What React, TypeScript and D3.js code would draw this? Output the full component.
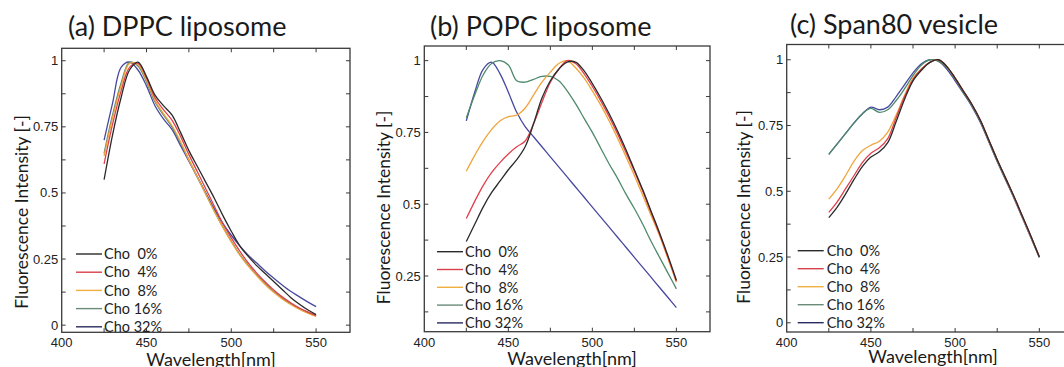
import React from 'react';
import * as d3 from 'd3';

// ---------- data ----------
const WAVELENGTH = [425, 430, 435, 440, 445, 450, 455, 460, 465, 470, 475, 480, 485, 490, 495, 500, 505, 510, 515, 520, 525, 530, 535, 540, 545, 550];

const LEGEND_LABELS = ['Cho  0%', 'Cho  4%', 'Cho  8%', 'Cho 16%', 'Cho 32%'];
const SERIES_COLORS = ['#2a2a2a', '#e0404c', '#f0a43c', '#4e8a6c', '#4848a0'];
const LEGEND_COLORS = ['#2a2a2a', '#d8404c', '#f0b040', '#6a8a7a', '#2a2a60'];

const X_TICKS = [400, 450, 500, 550];
const X_MINOR_TICKS = [425, 475, 525];

// (a) DPPC liposome
const dppcCho0 = [0.55, 0.72, 0.86, 0.965, 0.995, 0.94, 0.87, 0.83, 0.795, 0.73, 0.66, 0.60, 0.54, 0.48, 0.415, 0.355, 0.30, 0.26, 0.225, 0.195, 0.165, 0.135, 0.105, 0.08, 0.058, 0.04];
const dppcCho4 = [0.61, 0.76, 0.885, 0.975, 0.99, 0.935, 0.86, 0.815, 0.775, 0.715, 0.645, 0.58, 0.515, 0.45, 0.385, 0.33, 0.28, 0.235, 0.197, 0.163, 0.133, 0.107, 0.085, 0.066, 0.05, 0.036];
const dppcCho8 = [0.64, 0.785, 0.905, 0.99, 0.985, 0.925, 0.85, 0.80, 0.755, 0.695, 0.625, 0.56, 0.495, 0.43, 0.37, 0.315, 0.265, 0.223, 0.187, 0.153, 0.124, 0.099, 0.078, 0.06, 0.045, 0.033];
const dppcCho16 = [0.65, 0.795, 0.915, 0.995, 0.98, 0.92, 0.845, 0.795, 0.75, 0.69, 0.625, 0.56, 0.495, 0.432, 0.372, 0.318, 0.268, 0.226, 0.19, 0.157, 0.127, 0.102, 0.081, 0.063, 0.048, 0.036];
const dppcCho32 = [0.70, 0.84, 0.975, 0.995, 0.965, 0.905, 0.83, 0.78, 0.74, 0.68, 0.62, 0.56, 0.50, 0.44, 0.385, 0.34, 0.30, 0.265, 0.235, 0.205, 0.178, 0.152, 0.128, 0.108, 0.088, 0.07];

// (b) POPC liposome
const popcCho0 = [0.37, 0.43, 0.49, 0.54, 0.58, 0.62, 0.655, 0.70, 0.78, 0.87, 0.93, 0.97, 0.995, 0.995, 0.965, 0.92, 0.87, 0.815, 0.755, 0.69, 0.62, 0.55, 0.475, 0.40, 0.32, 0.235];
const popcCho4 = [0.45, 0.51, 0.565, 0.61, 0.645, 0.675, 0.70, 0.72, 0.78, 0.855, 0.925, 0.97, 1.0, 0.99, 0.955, 0.91, 0.86, 0.805, 0.745, 0.68, 0.615, 0.545, 0.47, 0.395, 0.315, 0.232];
const popcCho8 = [0.615, 0.67, 0.72, 0.76, 0.79, 0.805, 0.81, 0.835, 0.88, 0.925, 0.96, 0.99, 1.0, 0.975, 0.94, 0.895, 0.845, 0.79, 0.73, 0.665, 0.60, 0.53, 0.46, 0.39, 0.31, 0.228];
const popcCho16 = [0.80, 0.88, 0.95, 0.99, 1.0, 0.985, 0.93, 0.925, 0.935, 0.945, 0.945, 0.93, 0.895, 0.85, 0.80, 0.75, 0.695, 0.64, 0.59, 0.535, 0.485, 0.43, 0.37, 0.315, 0.26, 0.205];
const popcCho32 = [0.79, 0.89, 0.97, 0.995, 0.955, 0.89, 0.82, 0.77, 0.735, 0.70, 0.665, 0.63, 0.595, 0.56, 0.525, 0.49, 0.455, 0.42, 0.385, 0.35, 0.315, 0.28, 0.245, 0.21, 0.175, 0.14];

// (c) Span80 vesicle
const spanCho0 = [0.40, 0.44, 0.49, 0.545, 0.595, 0.63, 0.65, 0.685, 0.765, 0.85, 0.92, 0.96, 0.99, 1.0, 0.975, 0.93, 0.88, 0.83, 0.77, 0.695, 0.62, 0.55, 0.48, 0.405, 0.33, 0.25];
const spanCho4 = [0.42, 0.46, 0.51, 0.56, 0.61, 0.645, 0.665, 0.70, 0.78, 0.86, 0.925, 0.965, 0.99, 1.0, 0.975, 0.93, 0.88, 0.83, 0.77, 0.695, 0.62, 0.55, 0.478, 0.403, 0.328, 0.252];
const spanCho8 = [0.47, 0.51, 0.56, 0.615, 0.655, 0.675, 0.69, 0.725, 0.79, 0.865, 0.93, 0.965, 0.99, 1.0, 0.975, 0.93, 0.88, 0.83, 0.77, 0.695, 0.62, 0.55, 0.478, 0.403, 0.328, 0.252];
const spanCho16 = [0.64, 0.68, 0.72, 0.76, 0.795, 0.815, 0.80, 0.81, 0.845, 0.89, 0.94, 0.98, 1.0, 0.995, 0.97, 0.925, 0.875, 0.825, 0.765, 0.69, 0.615, 0.545, 0.475, 0.40, 0.325, 0.25];
const spanCho32 = [0.64, 0.68, 0.72, 0.76, 0.795, 0.82, 0.81, 0.82, 0.86, 0.905, 0.95, 0.985, 1.0, 0.995, 0.965, 0.92, 0.872, 0.822, 0.762, 0.688, 0.613, 0.543, 0.473, 0.398, 0.323, 0.248];

// ---------- layout ----------
const PANELS = [
  {
    title: '(a) DPPC liposome', series: [dppcCho0, dppcCho4, dppcCho8, dppcCho16, dppcCho32],
    left: 61.7, right: 350, top: 48.3, bottom: 332.3, yDomain: [-0.027, 1.047],
    yTicks: [0, 0.25, 0.5, 0.75, 1],
    titleX: 68, titleY: 36, yTitleX: 28, yTitleY: 212, xTitleX: 211, xTitleY: 366,
    legLine: 76, legText: 104, legY: 254, legDy: 18.2,
  },
  {
    title: '(b) POPC liposome', series: [popcCho0, popcCho4, popcCho8, popcCho16, popcCho32],
    left: 424.3, right: 710, top: 46, bottom: 331.7, yDomain: [0.056, 1.051],
    yTicks: [0.25, 0.5, 0.75, 1],
    titleX: 430, titleY: 36, yTitleX: 390, yTitleY: 207.5, xTitleX: 572, xTitleY: 365,
    legLine: 437, legText: 465, legY: 251.7, legDy: 17.8,
  },
  {
    title: '(c) Span80 vesicle', series: [spanCho0, spanCho4, spanCho8, spanCho16, spanCho32],
    left: 786.7, right: 1073, top: 44.5, bottom: 332, yDomain: [-0.035, 1.058],
    yTicks: [0, 0.25, 0.5, 0.75, 1],
    titleX: 790, titleY: 34, yTitleX: 750, yTitleY: 207, xTitleX: 933, xTitleY: 363,
    legLine: 797.7, legText: 826.7, legY: 250.7, legDy: 18,
  },
];

const LABEL_FONT = 'Lato, "Open Sans", sans-serif';
const TICK_FONT = '"Liberation Sans", Arial, sans-serif';
const FRAME = '#3a3a3a';
const TICK_LEN = 4;

function Panel({ p }: { p: (typeof PANELS)[number] }) {
  const x = d3.scaleLinear().domain([400, 570]).range([p.left, p.right]);
  const y = d3.scaleLinear().domain(p.yDomain).range([p.bottom, p.top]);
  const line = d3
    .line<number>()
    .x((_, i) => x(WAVELENGTH[i]))
    .y((d) => y(d))
    .curve(d3.curveCatmullRom.alpha(0.5));
  const minorY = d3.range(0, 1.0001, 0.125).filter((v) => v >= p.yDomain[0] && v <= p.yDomain[1]);
  const allX = [...X_TICKS.filter((v) => v > 400), ...X_MINOR_TICKS];
  const order = [4, 3, 2, 1, 0];
  return (
    <g>
      <text x={p.titleX} y={p.titleY} fontFamily={LABEL_FONT} fontSize={27} fill="#1a1a1a">{p.title}</text>
      {order.map((k) => (
        <path key={k} d={line(p.series[k]) || ''} fill="none" stroke={SERIES_COLORS[k]} strokeWidth={1.3} strokeLinejoin="round" />
      ))}
      <rect x={p.left} y={p.top} width={p.right - p.left} height={p.bottom - p.top} fill="none" stroke={FRAME} strokeWidth={1.3} />
      {allX.map((v) => (
        <g key={'xt' + v}>
          <line x1={x(v)} x2={x(v)} y1={p.bottom} y2={p.bottom - TICK_LEN} stroke={FRAME} strokeWidth={1} />
          <line x1={x(v)} x2={x(v)} y1={p.top} y2={p.top + TICK_LEN} stroke={FRAME} strokeWidth={1} />
        </g>
      ))}
      {minorY.map((v) => (
        <g key={'yt' + v}>
          <line x1={p.left} x2={p.left + TICK_LEN} y1={y(v)} y2={y(v)} stroke={FRAME} strokeWidth={1} />
          <line x1={p.right} x2={p.right - TICK_LEN} y1={y(v)} y2={y(v)} stroke={FRAME} strokeWidth={1} />
        </g>
      ))}
      {X_TICKS.map((v) => (
        <text key={'xl' + v} x={x(v)} y={346.5} textAnchor="middle" fontFamily={TICK_FONT} fontSize={13} fill="#222">{v}</text>
      ))}
      {p.yTicks.map((v) => (
        <text key={'yl' + v} x={p.left - 3.5} y={y(v)} dy="0.35em" textAnchor="end" fontFamily={TICK_FONT} fontSize={13} fill="#222">{String(v)}</text>
      ))}
      <text x={p.xTitleX} y={p.xTitleY} textAnchor="middle" fontFamily={LABEL_FONT} fontSize={18} fill="#1a1a1a">Wavelength[nm]</text>
      <text transform={`translate(${p.yTitleX},${p.yTitleY}) rotate(-90)`} textAnchor="middle" fontFamily={LABEL_FONT} fontSize={17.5} fill="#1a1a1a">Fluorescence Intensity [-]</text>
      {LEGEND_LABELS.map((lab, k) => {
        const ly = p.legY + k * p.legDy;
        return (
          <g key={'lg' + k}>
            <line x1={p.legLine} x2={p.legLine + 26} y1={ly} y2={ly} stroke={LEGEND_COLORS[k]} strokeWidth={1.4} />
            <text x={p.legText} y={ly} dy="0.36em" fontFamily={LABEL_FONT} fontSize={14.5} fill="#222" style={{ whiteSpace: 'pre' }}>{lab}</text>
          </g>
        );
      })}
    </g>
  );
}

export default function App() {
  return (
    <svg width={1064} height={367} style={{ position: 'absolute', left: 0, top: 0, background: '#fff' }}>
      <rect x={0} y={0} width={1064} height={367} fill="#fff" />
      {PANELS.map((p, i) => (
        <Panel key={i} p={p} />
      ))}
    </svg>
  );
}
